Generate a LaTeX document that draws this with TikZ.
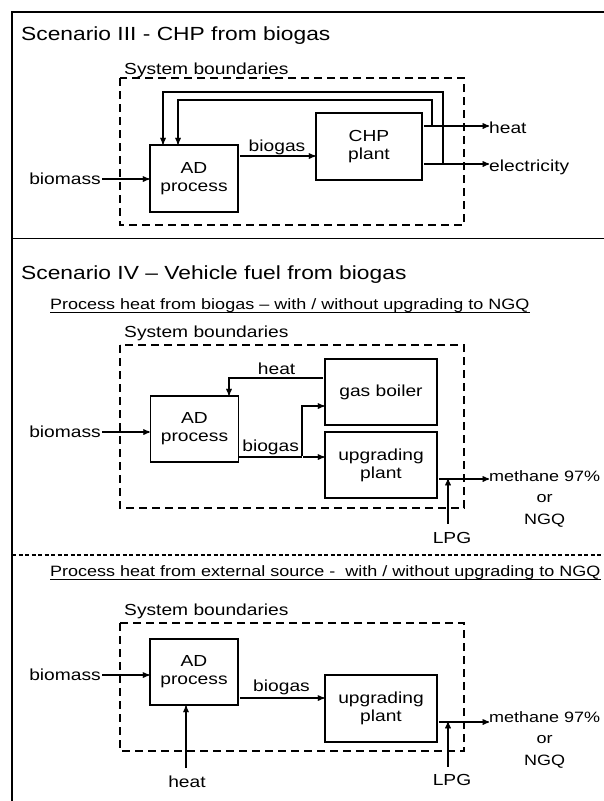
\documentclass[tikz,border=0pt]{standalone}
\usepackage{fontspec}
\setmainfont{Liberation Sans}[FakeStretch=1.2]
\usetikzlibrary{arrows}
\usetikzlibrary{positioning}

\begin{document}
\begin{tikzpicture}[
		x=1pt, y=-1pt,
		>=stealth',
		flow/.style={->, line width=1.3pt, shorten <=1pt},
		box node/.style={draw, line width=1.6pt, minimum width=88pt, minimum height=66pt, inner sep=0pt, align=center, font=\fontsize{16}{18}\selectfont}
		,
		text node/.style={inner sep=0pt, align=center, font=\fontsize{16}{21.5}\selectfont},
		out node/.style={text node, font=\fontsize{15}{21.5}\selectfont},
		title node/.style={inner sep=0pt, anchor=base west, font=\fontsize{19}{22}\selectfont},
		sub node/.style={inner sep=0pt, anchor=base west, font=\fontsize{15}{18}\selectfont},
		boundary/.style={line width=1.6pt, dash pattern=on 8pt off 5pt}
		]
		
		\useasboundingbox (0,0) rectangle (604,801);
		
		% frame
		\draw[line width=1.6pt] (604,12) -- (12,12) -- (12,801);
		\draw[line width=1.6pt] (12,238.5) -- (604,238.5);
		\draw[line width=1.3pt, dash pattern=on 4pt off 2.5pt] (12,555) -- (604,555);
		
		% Scenario III
		\node[title node] (t3) at (21,40) {Scenario III - CHP from biogas};
		\node[text node, anchor=base west] (sb3) at (124,74) {System boundaries};
		\draw[boundary] (120,78) rectangle (464,225);
		
		\node[box node, minimum height=67pt] (ad3) at (194,178.5) {AD\\process};
		\node[box node, minimum width=106pt, minimum height=67pt] (chp) at (369,146.5) {CHP\\plant};
		\node[text node, anchor=east] (bm3) at (101,179) {biomass};
		\node[text node, anchor=west] (heat3) at (489,128) {heat};
		\node[text node, anchor=west] (el3) at (489,167) {electricity};
		
		\draw[flow] (bm3.east) -- (bm3.east -| ad3.west);
		\draw[flow] (ad3.east |- 0,156) -- node[text node, above=1pt] (bg3) {biogas} (chp.west |- 0,156);
		\draw[flow] (chp.east |- 0,126) -- (heat3.west |- 0,126);
		\draw[flow] (chp.east |- 0,164) -- (el3.west |- 0,164);
		\draw[flow] (432,126) |- (178,100) -- (ad3.north -| 178,0);
		\draw[flow] (443,164) |- (163,92) -- (ad3.north -| 163,0);
		
		% Scenario IV, heat from biogas
		\node[title node] (t4) at (21,279) {Scenario IV -- Vehicle fuel from biogas};
		\node[sub node] (s4a) at (50,309) {Process heat from biogas -- with / without upgrading to NGQ};
		\draw[line width=1pt] ([yshift=-3.5pt]s4a.base west) -- ([yshift=-3.5pt]s4a.base east);
		\node[text node, anchor=base west] (sb4a) at (124,337) {System boundaries};
		\draw[boundary] (120,345) rectangle (464,508);
		
		\node[box node] (ad4) at (194.5,429) {AD\\process};
		\node[box node, minimum width=112pt] (boiler) at (381,392) {gas boiler};
		\node[box node, minimum width=112pt] (up4a) at (381,465) {upgrading\\plant};
		\node[text node, anchor=east] (bm4a) at (101,432) {biomass};
		\node[out node, anchor=north west] (me4a) at (489,470) {methane 97\%\\or\\NGQ};
		\node[text node, anchor=base] (lpg4a) at (452,543) {LPG};
		
		\draw[flow] (bm4a.east) -- (bm4a.east -| ad4.west);
		\draw[flow] (boiler.west |- 0,378) -| node[text node, pos=0.25, above=3pt] (hl4a) {heat} (ad4.north -| 229,0);
		\draw[line width=1.3pt] (ad4.east |- 0,457) -- node[text node, above=2pt] (bg4a) {biogas} (302,457);
		\draw[flow] (302,457) |- (boiler.west |- 0,406);
		\draw[flow] (302,457) -- (up4a.west |- 0,457);
		\draw[flow] (up4a.east |- 0,479) -- (me4a.west |- 0,479);
		\draw[flow] ([yshift=7pt]lpg4a.north -| 448,0) -- (448,479);
		
		% Scenario IV, external heat
		\node[sub node] (s4b) at (50,576) {Process heat from external source -\ \ with / without upgrading to NGQ};
		\draw[line width=1pt] ([yshift=-3.5pt]s4b.base west) -- ([yshift=-3.5pt]s4b.base east);
		\node[text node, anchor=base west] (sb4b) at (124,615) {System boundaries};
		\draw[boundary] (120,623) rectangle (464,751);
		
		\node[box node] (ad5) at (194,672) {AD\\process};
		\node[box node, minimum width=112pt, minimum height=67pt] (up4b) at (381,708.5) {upgrading\\plant};
		\node[text node, anchor=east] (bm4b) at (101,675) {biomass};
		\node[out node, anchor=north west] (me4b) at (489,711) {methane 97\%\\or\\NGQ};
		\node[text node, anchor=base] (lpg4b) at (452,785) {LPG};
		\node[text node, anchor=base] (hx4b) at (187,787) {heat};
		
		\draw[flow] (bm4b.east) -- (bm4b.east -| ad5.west);
		\draw[flow] (ad5.east |- 0,698) -- node[text node, above=3pt] (bg4b) {biogas} (up4b.west |- 0,698);
		\draw[flow] (up4b.east |- 0,722) -- (me4b.west |- 0,722);
		\draw[flow] ([yshift=6pt]lpg4b.north -| 448,0) -- (448,722);
		\draw[flow] ([yshift=6pt]hx4b.north -| 186,0) -- (ad5.south -| 186,0);
	\end{tikzpicture}
\end{document}
